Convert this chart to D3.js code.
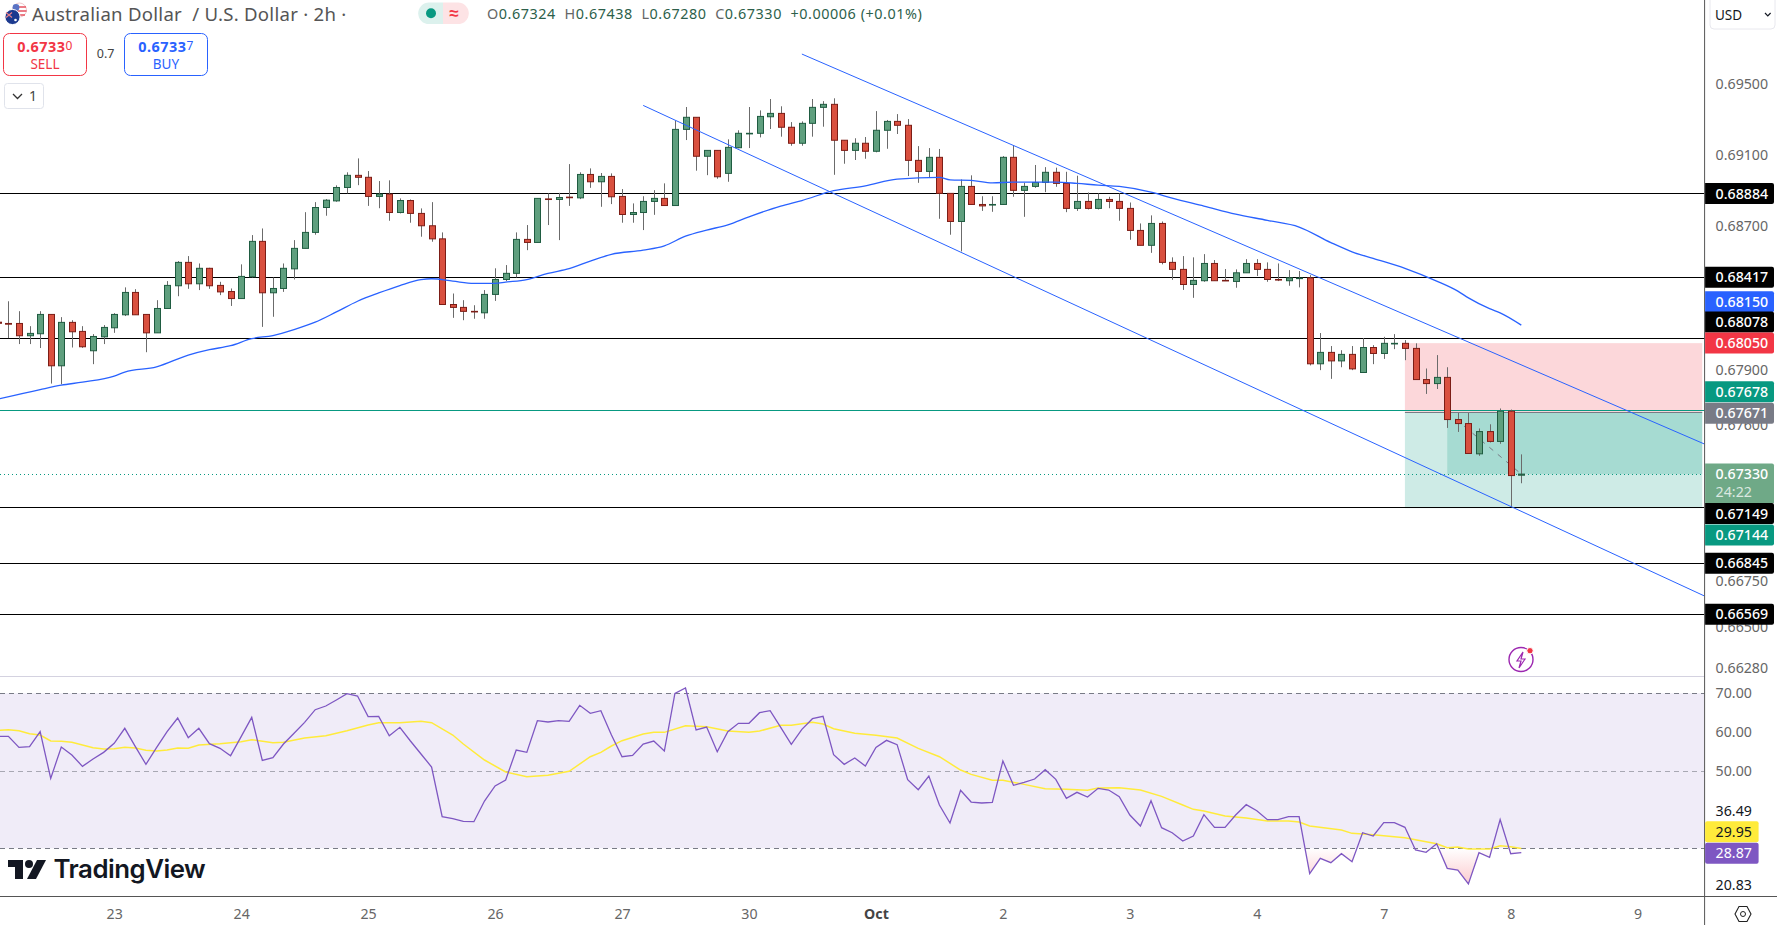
<!DOCTYPE html>
<html>
<head>
<meta charset="utf-8">
<script src="https://cdnjs.cloudflare.com/ajax/libs/d3/7.8.5/d3.min.js"></script>
<style>
  html, body { margin: 0; padding: 0; background: #fff; overflow: hidden; }
  svg { display: block; }
  text { font-family: "Noto Sans", sans-serif; }
</style>
</head>
<body>
<script>
// AUD/USD 2h candles
const opens = [0.68166,
  0.68159,0.68159,0.68091,0.68102,0.68209,0.67925,0.68165,0.68115,0.68008,0.68085,
  0.68135,0.68207,0.68331,0.68209,0.68107,0.68242,0.68368,0.68498,0.68379,0.68465,
  0.68370,0.68336,0.68297,0.68418,0.68615,0.68329,0.68353,0.68462,0.68576,0.68665,
  0.68804,0.68841,0.68916,0.68984,0.68973,0.68866,0.68879,0.68776,0.68843,0.68771,
  0.68702,0.68629,0.68264,0.68248,0.68226,0.68218,0.68320,0.68403,0.68437,0.68626,
  0.68609,0.68852,0.68849,0.68862,0.68858,0.68989,0.68948,0.68978,0.68866,0.68765,
  0.68776,0.68838,0.68855,0.68815,0.69242,0.69310,0.69091,0.69124,0.68995,0.69139,
  0.69218,0.69220,0.69313,0.69332,0.69254,0.69164,0.69276,0.69366,0.69383,0.69181,
  0.69124,0.69164,0.69119,0.69237,0.69287,0.69265,0.69068,0.69006,0.69085,0.68883,
  0.68726,0.68922,0.68821,0.68819,0.68821,0.69085,0.68900,0.68922,0.68944,0.69001,
  0.68939,0.68799,0.68838,0.68799,0.68849,0.68838,0.68799,0.68676,0.68593,0.68715,
  0.68498,0.68459,0.68375,0.68396,0.68492,0.68398,0.68392,0.68440,0.68492,0.68459,
  0.68403,0.68396,0.68408,0.68412,0.67936,0.67999,0.67952,0.67988,0.67888,0.68026,
  0.67993,0.68047,0.68049,0.68021,0.67849,0.67827,0.67861,0.67629,0.67607,0.67441,
  0.67563,0.67509,0.67675,0.67324];
const highs = [0.68190,
  0.68282,0.68227,0.68144,0.68227,0.68209,0.68194,0.68177,0.68144,0.68100,0.68150,
  0.68216,0.68359,0.68349,0.68209,0.68288,0.68394,0.68505,0.68533,0.68492,0.68468,
  0.68390,0.68353,0.68487,0.68650,0.68687,0.68414,0.68492,0.68622,0.68778,0.68834,
  0.68851,0.68928,0.69001,0.69079,0.69008,0.68952,0.68956,0.68855,0.68849,0.68799,
  0.68834,0.68665,0.68325,0.68288,0.68260,0.68344,0.68465,0.68483,0.68665,0.68706,
  0.68855,0.68883,0.68886,0.69047,0.69001,0.69023,0.68997,0.68995,0.68907,0.68827,
  0.68867,0.68901,0.68939,0.69291,0.69368,0.69310,0.69124,0.69124,0.69186,0.69237,
  0.69368,0.69349,0.69413,0.69372,0.69283,0.69287,0.69413,0.69401,0.69417,0.69181,
  0.69192,0.69199,0.69345,0.69295,0.69328,0.69300,0.69148,0.69137,0.69132,0.68883,
  0.68961,0.68984,0.68867,0.68867,0.69092,0.69152,0.68942,0.69042,0.69030,0.69027,
  0.69004,0.68982,0.68888,0.68883,0.68864,0.68883,0.68832,0.68715,0.68760,0.68726,
  0.68526,0.68533,0.68526,0.68544,0.68511,0.68461,0.68459,0.68516,0.68516,0.68498,
  0.68492,0.68455,0.68450,0.68427,0.68106,0.68034,0.68011,0.68034,0.68078,0.68039,
  0.68085,0.68100,0.68067,0.68049,0.67910,0.67984,0.67917,0.67665,0.67665,0.67580,
  0.67603,0.67690,0.67684,0.67438];
const lows = [0.68130,
  0.68078,0.68045,0.68045,0.68023,0.67827,0.67823,0.68026,0.68024,0.67934,0.68045,
  0.68107,0.68200,0.68207,0.68000,0.68107,0.68242,0.68310,0.68351,0.68344,0.68351,
  0.68316,0.68256,0.68297,0.68414,0.68140,0.68196,0.68334,0.68403,0.68576,0.68652,
  0.68758,0.68836,0.68883,0.68929,0.68813,0.68800,0.68730,0.68771,0.68719,0.68641,
  0.68613,0.68264,0.68190,0.68177,0.68185,0.68185,0.68284,0.68394,0.68414,0.68566,
  0.68609,0.68706,0.68622,0.68813,0.68851,0.68914,0.68808,0.68823,0.68719,0.68719,
  0.68678,0.68763,0.68815,0.68813,0.69182,0.69010,0.68985,0.68965,0.68948,0.69136,
  0.69137,0.69197,0.69244,0.69201,0.69150,0.69150,0.69201,0.69257,0.68987,0.69049,
  0.69070,0.69077,0.69113,0.69133,0.69216,0.68980,0.68942,0.68973,0.68741,0.68652,
  0.68559,0.68821,0.68785,0.68780,0.68821,0.68864,0.68752,0.68914,0.68890,0.68920,
  0.68778,0.68785,0.68793,0.68793,0.68800,0.68730,0.68624,0.68593,0.68551,0.68487,
  0.68401,0.68345,0.68301,0.68390,0.68396,0.68396,0.68357,0.68440,0.68422,0.68390,
  0.68394,0.68368,0.68359,0.67927,0.67901,0.67853,0.67917,0.67901,0.67888,0.67934,
  0.67963,0.68017,0.67956,0.67849,0.67770,0.67797,0.67583,0.67561,0.67443,0.67430,
  0.67503,0.67496,0.67150,0.67280];
const closes = [0.68160,
  0.68155,0.68091,0.68104,0.68209,0.67925,0.68165,0.68113,0.68030,0.68087,0.68137,
  0.68209,0.68331,0.68207,0.68107,0.68242,0.68370,0.68498,0.68379,0.68465,0.68368,
  0.68334,0.68297,0.68420,0.68615,0.68329,0.68353,0.68465,0.68576,0.68665,0.68804,
  0.68845,0.68916,0.68984,0.68973,0.68866,0.68879,0.68776,0.68843,0.68771,0.68702,
  0.68629,0.68264,0.68248,0.68226,0.68223,0.68320,0.68403,0.68437,0.68626,0.68609,
  0.68855,0.68849,0.68860,0.68859,0.68989,0.68948,0.68978,0.68864,0.68765,0.68776,
  0.68838,0.68855,0.68815,0.69242,0.69310,0.69091,0.69124,0.68976,0.69141,0.69220,
  0.69220,0.69315,0.69332,0.69254,0.69164,0.69276,0.69366,0.69383,0.69181,0.69124,
  0.69164,0.69119,0.69237,0.69287,0.69265,0.69068,0.69006,0.69085,0.68883,0.68726,
  0.68922,0.68821,0.68813,0.68821,0.69085,0.68900,0.68922,0.68944,0.69001,0.68939,
  0.68799,0.68838,0.68799,0.68849,0.68838,0.68799,0.68676,0.68593,0.68715,0.68498,
  0.68459,0.68375,0.68398,0.68492,0.68396,0.68396,0.68440,0.68492,0.68459,0.68403,
  0.68401,0.68412,0.68411,0.67936,0.67999,0.67952,0.67988,0.67908,0.68026,0.67993,
  0.68049,0.68049,0.68021,0.67849,0.67827,0.67861,0.67629,0.67607,0.67443,0.67563,
  0.67509,0.67675,0.67322,0.67330];

// moving average on price, read at these bars
const maBars = [0,4,6,8,11,12,15,18,20,22,24,26,28,30,32,34,36,38,40,41,43,45,47,48,50,52,54,56,58,61,63,65,67,69,71,74,76,79,82,85,89,90,92,94,96,100,102,104,106,109,111,114,117,120,123,126,128,130,133,136,138,139,141,142,144];
const maValues = [0.67741,0.67794,0.67818,0.67835,0.67868,0.67890,0.67919,0.67984,0.68014,0.68036,0.68075,0.68092,0.68125,0.68166,0.68223,0.68282,0.68328,0.68369,0.68402,0.68407,0.68394,0.68381,0.68381,0.68388,0.68402,0.68437,0.68463,0.68505,0.68543,0.68566,0.68590,0.68644,0.68678,0.68707,0.68752,0.68812,0.68843,0.68898,0.68925,0.68963,0.68973,0.68959,0.68956,0.68942,0.68946,0.68946,0.68939,0.68929,0.68922,0.68890,0.68856,0.68812,0.68767,0.68732,0.68695,0.68608,0.68557,0.68520,0.68465,0.68394,0.68338,0.68301,0.68241,0.68218,0.68150];

// RSI, one value per bar
const rsiValues = [58.89,
  58.89,56.05,56.23,60.10,48.05,56.14,54.07,51.15,53.04,54.76,
  57.09,60.96,56.23,51.67,55.97,60.10,63.62,58.55,60.96,57.00,
  55.80,53.90,58.81,63.80,52.70,53.39,56.91,59.67,62.50,65.77,
  66.72,68.27,69.90,69.30,63.97,64.05,59.06,61.21,57.69,54.33,
  50.98,38.16,37.65,36.96,36.87,42.20,46.08,47.62,55.37,54.76,
  62.93,62.59,62.93,62.76,66.89,64.83,65.52,59.24,53.64,53.99,
  56.91,57.69,55.11,69.99,71.36,60.53,61.30,54.93,60.10,62.25,
  62.25,65.00,65.52,61.21,56.83,60.70,63.45,64.05,54.16,51.67,
  53.30,51.24,56.05,57.86,56.74,47.71,45.13,48.66,41.17,36.53,
  44.96,41.94,41.69,41.86,52.53,46.25,47.02,47.88,50.29,47.79,
  42.89,44.44,43.24,45.47,45.04,43.32,38.59,35.75,42.29,35.32,
  34.03,31.88,33.17,38.68,35.41,35.41,38.59,41.26,39.71,37.39,
  37.39,38.16,38.16,23.45,27.41,26.29,28.61,26.55,34.03,33.17,
  36.61,36.61,35.41,29.56,28.96,31.19,24.83,24.40,20.83,28.87,
  27.67,37.39,28.61,28.87];

// RSI moving average, read at these bars
const rsiMaBars = [0,1,2,3,4,5,6,7,9,10,11,12,13,14,15,16,17,18,19,21,23,24,26,27,29,31,33,35,36,38,40,41,43,44,46,48,50,52,54,56,57,58,59,61,62,63,65,67,69,71,72,74,75,77,78,79,81,83,85,87,89,91,92,94,95,97,99,101,103,104,106,108,110,112,113,114,116,118,120,122,123,124,127,128,130,133,136,137,138,139,141,142,143,144];
const rsiMaValues = [60.44,60.61,60.35,59.58,59.24,57.69,57.60,57.34,55.97,55.62,55.71,56.05,55.88,55.28,55.11,55.37,55.88,55.80,56.66,57.00,57.52,58.03,57.26,57.34,58.46,59.06,60.35,61.82,62.42,62.42,62.76,62.42,59.24,56.91,52.78,49.69,48.48,48.83,49.86,53.64,54.76,56.40,57.77,59.49,59.92,59.92,61.64,61.39,60.27,59.92,60.27,61.73,61.73,62.50,62.07,60.87,59.67,59.15,58.46,55.80,53.64,50.20,49.08,47.54,47.54,46.50,45.39,45.21,44.96,45.56,45.65,45.04,43.41,41.17,40.05,39.62,38.33,37.82,37.04,37.04,36.78,35.75,34.72,33.86,33.52,32.74,31.19,30.16,30.33,29.82,29.82,30.68,30.42,29.95];

const priceTicks = [0.695, 0.691, 0.687, 0.679, 0.676, 0.6675, 0.665, 0.6628];
const rsiTicks = [70, 60, 50];
const dayBars = [11,23,35,47,59,71,83,95,107,119,131,143,155];
const dayLabels = ["23","24","25","26","27","30","Oct","2","3","4","7","8","9"];

const levels = [0.68884, 0.68417, 0.68078, 0.67149, 0.66845, 0.66569];
const entry = 0.67671, stop = 0.68050, target = 0.67144, lastPrice = 0.67330;
const tealLevel = 0.67678;

// channel lines: [bar, price] at each end
const channelUpper = [[76, 0.69667], [161.3, 0.67495]];
const channelLower = [[61, 0.69377], [161.3, 0.66667]];

// layout
const axisX = 1704.6, paneBottom = 676, timeTop = 896;
const gridColor = "#787b86";

const xScale = d3.scaleLinear().domain([0, 144]).range([-2.18, 1521.3]);
const yScale = d3.scaleLog().domain([0.695, 0.6628]).range([83.6, 667.6]);
const rsiScale = d3.scaleLinear().domain([70, 30]).range([693.3, 848.3]);
const crisp = v => Math.round(v) + 0.5;

const svg = d3.select("body").append("svg").attr("width", 1777).attr("height", 925);
const defs = svg.append("defs");
defs.append("clipPath").attr("id", "mainClip").append("rect")
  .attr("x", 0).attr("y", 0).attr("width", axisX).attr("height", paneBottom);
defs.append("clipPath").attr("id", "rsiClip").append("rect")
  .attr("x", 0).attr("y", paneBottom).attr("width", axisX).attr("height", timeTop - paneBottom);
defs.append("clipPath").attr("id", "oversoldClip").append("rect")
  .attr("x", 0).attr("y", rsiScale(30)).attr("width", axisX).attr("height", timeTop - rsiScale(30));
const grad = defs.append("linearGradient").attr("id", "oversoldGrad")
  .attr("gradientUnits", "userSpaceOnUse")
  .attr("x1", 0).attr("x2", 0).attr("y1", rsiScale(30)).attr("y2", rsiScale(20));
grad.append("stop").attr("offset", 0).attr("stop-color", "#f23645").attr("stop-opacity", 0);
grad.append("stop").attr("offset", 1).attr("stop-color", "#f23645").attr("stop-opacity", 0.28);

const main = svg.append("g").attr("clip-path", "url(#mainClip)");

// position box
const boxStart = 133, boxEnd = 161.1, profitStart = 137, lastBar = 144;
main.append("rect").attr("x", xScale(boxStart)).attr("width", xScale(boxEnd) - xScale(boxStart))
  .attr("y", yScale(stop)).attr("height", yScale(entry) - yScale(stop))
  .attr("fill", "#f23645").attr("fill-opacity", 0.2);
main.append("rect").attr("x", xScale(boxStart)).attr("width", xScale(boxEnd) - xScale(boxStart))
  .attr("y", yScale(entry)).attr("height", yScale(target) - yScale(entry))
  .attr("fill", "#089981").attr("fill-opacity", 0.2);
main.append("rect").attr("x", xScale(profitStart)).attr("width", xScale(boxEnd) - xScale(profitStart))
  .attr("y", yScale(entry)).attr("height", yScale(lastPrice) - yScale(entry))
  .attr("fill", "#089981").attr("fill-opacity", 0.2);
main.append("line").attr("x1", xScale(boxStart)).attr("x2", xScale(boxEnd))
  .attr("y1", crisp(yScale(entry))).attr("y2", crisp(yScale(entry))).attr("stroke", "#787b86");
main.append("line").attr("x1", xScale(profitStart)).attr("x2", xScale(lastBar))
  .attr("y1", yScale(entry)).attr("y2", yScale(lastPrice))
  .attr("stroke", "#787b86").attr("stroke-width", 1).attr("stroke-dasharray", "5 6");

// last price dotted line
main.append("line").attr("x1", 0).attr("x2", axisX)
  .attr("y1", crisp(yScale(lastPrice))).attr("y2", crisp(yScale(lastPrice)))
  .attr("stroke", "#089981").attr("stroke-dasharray", "1 3");

// horizontal levels
main.selectAll(".level").data(levels).enter().append("line").attr("class", "level")
  .attr("x1", 0).attr("x2", axisX)
  .attr("y1", d => crisp(yScale(d))).attr("y2", d => crisp(yScale(d)))
  .attr("stroke", "#000");
main.append("line").attr("x1", 0).attr("x2", axisX)
  .attr("y1", crisp(yScale(tealLevel) - 1)).attr("y2", crisp(yScale(tealLevel) - 1))
  .attr("stroke", "#089981");

// candles
const upFill = "#5f9f7e", upEdge = "#1f5c41", downFill = "#d9503f", downEdge = "#7c1d16";
const candles = opens.map((o, i) => ({ bar: i, o, h: highs[i], l: lows[i], c: closes[i] }));
const candle = main.selectAll(".candle").data(candles).enter().append("g").attr("class", "candle");
candle.append("line")
  .attr("x1", d => Math.round(xScale(d.bar)) + 0.5).attr("x2", d => Math.round(xScale(d.bar)) + 0.5)
  .attr("y1", d => yScale(d.h)).attr("y2", d => yScale(d.l))
  .attr("stroke", "#6b6b6b").attr("stroke-width", 1);
candle.append("rect")
  .attr("x", d => Math.round(xScale(d.bar)) - 2.5).attr("width", 6)
  .attr("y", d => yScale(Math.max(d.o, d.c)))
  .attr("height", d => Math.max(0.6, yScale(Math.min(d.o, d.c)) - yScale(Math.max(d.o, d.c))))
  .attr("fill", d => d.c >= d.o ? upFill : downFill)
  .attr("stroke", d => d.c >= d.o ? upEdge : downEdge)
  .attr("stroke-width", 1);

// price moving average
main.append("path").datum(d3.zip(maBars, maValues))
  .attr("fill", "none").attr("stroke", "#2962ff").attr("stroke-width", 1.3)
  .attr("d", d3.line().x(d => xScale(d[0])).y(d => yScale(d[1])).curve(d3.curveMonotoneX));

// channel
[channelUpper, channelLower].forEach(seg => {
  main.append("path").datum(seg)
    .attr("fill", "none").attr("stroke", "#2962ff").attr("stroke-width", 1)
    .attr("d", d3.line().x(d => xScale(d[0])).y(d => yScale(d[1])));
});

// RSI pane
const rsi = svg.append("g").attr("clip-path", "url(#rsiClip)");
rsi.append("rect").attr("x", 0).attr("width", axisX)
  .attr("y", rsiScale(70)).attr("height", rsiScale(30) - rsiScale(70))
  .attr("fill", "#7e57c2").attr("fill-opacity", 0.115);
[70, 50, 30].forEach(v => {
  rsi.append("line").attr("x1", 0).attr("x2", axisX)
    .attr("y1", crisp(rsiScale(v))).attr("y2", crisp(rsiScale(v)))
    .attr("stroke", gridColor).attr("stroke-opacity", v === 50 ? 0.6 : 1)
    .attr("stroke-dasharray", "5 4");
});
rsi.append("path").datum(rsiValues)
  .attr("clip-path", "url(#oversoldClip)")
  .attr("fill", "url(#oversoldGrad)")
  .attr("d", d3.area().x((d, i) => xScale(i)).y0(rsiScale(30)).y1(d => rsiScale(d)));
rsi.append("path").datum(d3.zip(rsiMaBars, rsiMaValues))
  .attr("fill", "none").attr("stroke", "#ffeb3b").attr("stroke-width", 1.5)
  .attr("d", d3.line().x(d => xScale(d[0])).y(d => rsiScale(d[1])));
rsi.append("path").datum(rsiValues)
  .attr("fill", "none").attr("stroke", "#7e57c2").attr("stroke-width", 1.3)
  .attr("d", d3.line().x((d, i) => xScale(i)).y(d => rsiScale(d)));

// separators
svg.append("line").attr("x1", 0).attr("x2", axisX).attr("y1", paneBottom + 0.5).attr("y2", paneBottom + 0.5)
  .attr("stroke", "#d4d2e0");
svg.append("line").attr("x1", 0).attr("x2", 1777).attr("y1", timeTop + 0.5).attr("y2", timeTop + 0.5)
  .attr("stroke", "#555");
svg.append("line").attr("x1", axisX).attr("x2", axisX).attr("y1", 0).attr("y2", 925)
  .attr("stroke", "#555");

// axes
const tickFont = 14.2;
const priceAxis = svg.append("g").attr("transform", `translate(${axisX},0)`)
  .call(d3.axisRight(yScale).tickValues(priceTicks).tickFormat(d3.format(".5f")).tickSize(0).tickPadding(11));
const rsiAxis = svg.append("g").attr("transform", `translate(${axisX},0)`)
  .call(d3.axisRight(rsiScale).tickValues(rsiTicks).tickFormat(d3.format(".2f")).tickSize(0).tickPadding(11));
const timeScaleTicks = d3.axisBottom(xScale).tickValues(dayBars)
  .tickFormat((d, i) => dayLabels[i]).tickSize(0).tickPadding(13);
const timeAxis = svg.append("g").attr("transform", `translate(0,${timeTop})`).call(timeScaleTicks);
[priceAxis, rsiAxis, timeAxis].forEach(a => {
  a.select(".domain").remove();
  a.selectAll("text").attr("font-size", tickFont).attr("fill", "#666")
    .style("font-family", "'Noto Sans', sans-serif");
});
timeAxis.selectAll("text").filter(d => d === 83).attr("font-weight", 700).attr("fill", "#444");

// coloured axis labels; dy is how far the label got pushed to not overlap
const priceLabels = [
  { value: 0.68884, bg: "#000", dy: 0.2 },
  { value: 0.68417, bg: "#000", dy: 0.2 },
  { value: 0.68150, bg: "#2962ff", dy: -23.4 },
  { value: 0.68078, bg: "#000", dy: -16.1 },
  { value: 0.68050, bg: "#f23645", dy: -0.1 },
  { value: 0.67678, bg: "#089981", dy: -18.8 },
  { value: 0.67671, bg: "#787b86", dy: 1.4 },
  { value: 0.67149, bg: "#000", dy: 6.2 },
  { value: 0.67144, bg: "#089981", dy: 26.8 },
  { value: 0.66845, bg: "#000", dy: 0.2 },
  { value: 0.66569, bg: "#000", dy: 0.1 }
];
function axisLabel(y, text, bg, fg, right) {
  const g = svg.append("g");
  g.append("path")
    .attr("d", `M${axisX + 0.5},${y - 10.5}H${right - 2}q2,0 2,2V${y + 8.5}q0,2 -2,2H${axisX + 0.5}Z`)
    .attr("fill", bg);
  g.append("text").attr("x", axisX + 11).attr("y", y).attr("dy", "0.36em")
    .attr("font-size", tickFont).attr("fill", fg).attr("font-weight", 500).text(text);
}

// last price label with countdown, under the level labels
const lastY = yScale(lastPrice);
svg.append("path")
  .attr("d", `M${axisX + 0.5},${lastY - 10.5}H1772q2,0 2,2V${lastY + 29}H${axisX + 0.5}Z`)
  .attr("fill", "#6fa987");
svg.append("text").attr("x", axisX + 11).attr("y", lastY).attr("dy", "0.36em")
  .attr("font-size", tickFont).attr("fill", "#fff").attr("font-weight", 500).text("0.67330");
svg.append("text").attr("x", axisX + 11).attr("y", lastY + 18).attr("dy", "0.36em")
  .attr("font-size", tickFont).attr("fill", "#fff").attr("fill-opacity", 0.75).text("24:22");

priceLabels.forEach(d => axisLabel(yScale(d.value) + d.dy, d3.format(".5f")(d.value), d.bg, "#fff", 1774));

// RSI labels
const rsiNumbers = [
  { value: 36.49, shown: 811, bg: null, fg: "#131722" },
  { value: 29.95, shown: 831.7, bg: "#ffeb3b", fg: "#131722" },
  { value: 28.87, shown: 853.3, bg: "#7e57c2", fg: "#fff" },
  { value: 20.83, shown: 885, bg: null, fg: "#131722" }
];
rsiNumbers.forEach(d => {
  if (d.bg) {
    svg.append("rect").attr("x", axisX + 0.5).attr("y", d.shown - 10.5).attr("width", 53.5).attr("height", 21)
      .attr("rx", 2).attr("fill", d.bg);
  }
  svg.append("text").attr("x", axisX + 11).attr("y", d.shown).attr("dy", "0.36em")
    .attr("font-size", tickFont).attr("fill", d.fg).text(d.value.toFixed(2));
});

// header
const header = svg.append("g");
header.append("circle").attr("cx", 19.5).attr("cy", 10).attr("r", 7).attr("fill", "#fff").attr("stroke", "#f0c8cc");
header.append("path").attr("d", "M13,7h13M12.6,11h14M14,15h11").attr("stroke", "#e5525f").attr("stroke-width", 1.6);
header.append("circle").attr("cx", 16).attr("cy", 7.5).attr("r", 3.4).attr("fill", "#5a73c4");
header.append("circle").attr("cx", 12.5).attr("cy", 17).attr("r", 7.6).attr("fill", "#1c3a8f").attr("stroke", "#fff");
header.append("path").attr("d", "M6,12.5l6,5M12,12.5l-6,5").attr("stroke", "#e8808a").attr("stroke-width", 1.2);
header.append("circle").attr("cx", 15.5).attr("cy", 20).attr("r", 1.3).attr("fill", "#fff");
header.append("text").attr("x", 32).attr("y", 14.5).attr("dy", "0.36em")
  .attr("font-size", 18.6).attr("letter-spacing", "0.26").attr("fill", "#555")
  .style("white-space", "pre").text("Australian Dollar  / U.S. Dollar · 2h ·");

header.append("path").attr("d", "M443,2.5H429a10.8,10.8 0 0 0 0,21.6h14Z").attr("fill", "#089981").attr("fill-opacity", 0.14);
header.append("path").attr("d", "M443,2.5H458a10.8,10.8 0 0 1 0,21.6h-15Z").attr("fill", "#f23645").attr("fill-opacity", 0.14);
header.append("circle").attr("cx", 431).attr("cy", 13.2).attr("r", 5).attr("fill", "#089981");
header.append("text").attr("x", 454).attr("y", 13).attr("dy", "0.36em").attr("text-anchor", "middle")
  .attr("font-size", 17).attr("font-weight", 700).attr("fill", "#f23645").text("≈");

const ohlcText = header.append("text").attr("x", 487).attr("y", 14).attr("dy", "0.36em")
  .attr("font-size", 14.4).attr("letter-spacing", "0.55").style("white-space", "pre");
[["O", "#666"], ["0.67324  ", "#2d5f4b"], ["H", "#666"], ["0.67438  ", "#2d5f4b"],
 ["L", "#666"], ["0.67280  ", "#2d5f4b"], ["C", "#666"], ["0.67330  ", "#2d5f4b"],
 ["+0.00006 (+0.01%)", "#2d5f4b"]].forEach(t => {
  ohlcText.append("tspan").attr("fill", t[1]).text(t[0]);
});

function tradeBox(x, label, price, small, color) {
  const g = header.append("g");
  g.append("rect").attr("x", x + 0.5).attr("y", 33.5).attr("width", 83).attr("height", 42).attr("rx", 6)
    .attr("fill", "#fff").attr("stroke", color);
  const t = g.append("text").attr("x", x + 42).attr("y", 46.5).attr("dy", "0.36em").attr("text-anchor", "middle")
    .attr("font-size", 14.4).attr("letter-spacing", "0.5").attr("font-weight", 700).attr("fill", color);
  t.append("tspan").text(price);
  t.append("tspan").attr("font-size", 12).attr("font-weight", 400).attr("dy", "-2").text(small);
  g.append("text").attr("x", x + 42).attr("y", 64).attr("dy", "0.36em").attr("text-anchor", "middle")
    .attr("font-size", 13.5).attr("fill", color).text(label);
}
tradeBox(3, "SELL", "0.6733", "0", "#f23645");
tradeBox(124, "BUY", "0.6733", "7", "#2962ff");
header.append("text").attr("x", 105.6).attr("y", 53).attr("dy", "0.36em").attr("text-anchor", "middle")
  .attr("font-size", 12.5).attr("fill", "#444").text("0.7");

header.append("rect").attr("x", 4.5).attr("y", 83.5).attr("width", 39).attr("height", 25).attr("rx", 3)
  .attr("fill", "#fff").attr("stroke", "#e0e3eb");
header.append("path").attr("d", "M13,94l4.5,4.5l4.5,-4.5").attr("fill", "none").attr("stroke", "#333").attr("stroke-width", 1.3);
header.append("text").attr("x", 33).attr("y", 96).attr("dy", "0.36em").attr("text-anchor", "middle")
  .attr("font-size", 14).attr("fill", "#444").text("1");

// currency picker
svg.append("path").attr("d", "M1710,0V25q0,4 4,4H1771q4,0 4,-4V0").attr("fill", "#fff").attr("stroke", "#e8e8ee");
svg.append("text").attr("x", 1715).attr("y", 15).attr("dy", "0.36em").attr("font-size", 13.5).attr("fill", "#131722").text("USD");
svg.append("path").attr("d", "M1765,13l2.8,2.8l2.8,-2.8").attr("fill", "none").attr("stroke", "#131722").attr("stroke-width", 1.2);

// settings hexagon
svg.append("path").attr("d", "M1735,914l4,-7.5h8l4,7.5l-4,7.5h-8Z").attr("fill", "none").attr("stroke", "#222").attr("stroke-width", 1.1);
svg.append("circle").attr("cx", 1743).attr("cy", 914).attr("r", 2.5).attr("fill", "none").attr("stroke", "#222");

// lightning badge
const badge = svg.append("g");
badge.append("circle").attr("cx", 1521).attr("cy", 659.5).attr("r", 12).attr("fill", "#fff").attr("stroke", "#9c27b0").attr("stroke-width", 1.4);
badge.append("path").attr("d", "M1523,652l-6,9h4l-2,7l6,-9h-4Z").attr("fill", "none").attr("stroke", "#9c27b0").attr("stroke-width", 1.2);
badge.append("circle").attr("cx", 1530).attr("cy", 650.7).attr("r", 3.2).attr("fill", "#f23645").attr("stroke", "#fff");

// TradingView logo
const logo = svg.append("g").attr("fill", "#131722");
logo.append("path").attr("d", "M8,860H23V879H15V867H8Z");
logo.append("circle").attr("cx", 29).attr("cy", 864).attr("r", 4);
logo.append("path").attr("d", "M37,860H46L36,879H27Z");
logo.append("text").attr("x", 53.5).attr("y", 869).attr("dy", "0.36em").attr("font-size", 25.8).attr("font-weight", 600)
  .style("font-family", "Inter, sans-serif").attr("letter-spacing", "-0.5").text("TradingView");
</script>
</body>
</html>
